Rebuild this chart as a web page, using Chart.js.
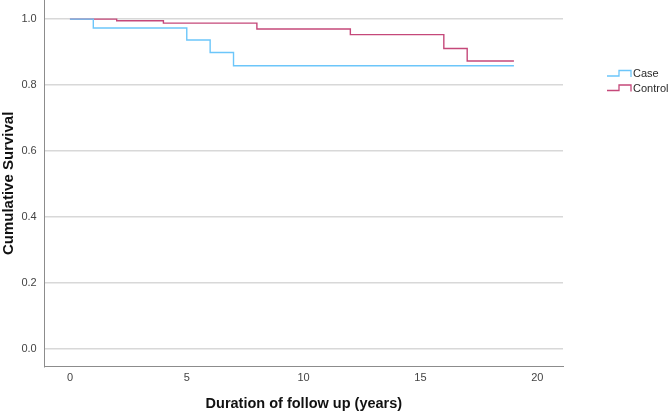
<!DOCTYPE html>
<html>
<head>
<meta charset="utf-8">
<script src="https://cdn.jsdelivr.net/npm/chart.js@4/dist/chart.umd.min.js"></script>
<style>
html,body{margin:0;padding:0;background:#fff;}
#wrap{width:669px;height:413px;position:relative;}
</style>
</head>
<body>
<div id="wrap"><canvas id="c" width="669" height="413"></canvas></div>
<script>
const seriesNames = ['Case', 'Control'];
const caseTimes = [0, 1, 5, 6, 7, 19];
const caseSurvival = [1.0, 0.973, 0.937, 0.899, 0.859, 0.859];
const controlTimes = [0, 2, 4, 8, 12, 16, 17, 19];
const controlSurvival = [1.0, 0.995, 0.988, 0.970, 0.953, 0.911, 0.873, 0.873];
const yTicks = [0, 0.2, 0.4, 0.6, 0.8, 1.0];
const xTicks = [0, 5, 10, 15, 20];
const colors = ['#6cc6fa', '#c5487a'];

function pts(t, s) { return t.map((x, i) => ({x: x, y: s[i]})); }

const legendPlugin = {
  id: 'kmLegend',
  afterDraw(chart) {
    const ctx = chart.ctx;
    const items = [{y: 74}, {y: 88.5}];
    ctx.save();
    chart.data.datasets.forEach((ds, i) => {
      const y = items[i].y;
      const x0 = 607, x1 = 631;
      ctx.strokeStyle = ds.borderColor;
      ctx.lineWidth = 1.3;
      ctx.beginPath();
      ctx.moveTo(x0, y + 2);
      ctx.lineTo(x0 + 12, y + 2);
      ctx.lineTo(x0 + 12, y - 3.5);
      ctx.lineTo(x1, y - 3.5);
      ctx.lineTo(x1, y + 3);
      ctx.stroke();
      ctx.fillStyle = '#2a2a2a';
      ctx.font = '11px "Liberation Sans", Arial, sans-serif';
      ctx.textBaseline = 'middle';
      ctx.textAlign = 'left';
      ctx.fillText(ds.label, 633, y);
    });
    ctx.restore();
  }
};

new Chart(document.getElementById('c'), {
  type: 'line',
  data: {
    datasets: [
      {label: seriesNames[0], data: pts(caseTimes, caseSurvival), borderColor: colors[0], borderWidth: 1.4, stepped: 'before', pointRadius: 0, fill: false},
      {label: seriesNames[1], data: pts(controlTimes, controlSurvival), borderColor: colors[1], borderWidth: 1.4, stepped: 'before', pointRadius: 0, fill: false}
    ]
  },
  options: {
    responsive: false,
    animation: false,
    layout: {padding: {left: 0, right: 106, top: 0, bottom: 0}},
    plugins: {legend: {display: false}, tooltip: {enabled: false}},
    scales: {
      x: {
        type: 'linear', min: -1.08, max: 21.1,
        afterBuildTicks(s) { s.ticks = xTicks.map(v => ({value: v})); },
        afterFit(s) { s.height = 46.3; s.paddingLeft = 0; s.paddingRight = 0; },
        grid: {display: false, drawTicks: false},
        border: {display: true, color: '#8c8c8c', width: 1},
        ticks: {color: '#444', font: {size: 11, family: '"Liberation Sans", Arial, sans-serif'}, padding: 5, maxRotation: 0},
        title: {display: true, text: 'Duration of follow up (years)', color: '#111', font: {size: 14.5, weight: 'bold', family: '"Liberation Sans", Arial, sans-serif'}, padding: {top: 0, bottom: 0}}
      },
      y: {
        type: 'linear', min: -0.053, max: 1.058,
        afterBuildTicks(s) { s.ticks = yTicks.map(v => ({value: v})); },
        afterFit(s) { s.width = 44.7; s.paddingTop = 0; s.paddingBottom = 0; },
        grid: {display: true, color: '#d8d8d8', lineWidth: 1.5, drawTicks: false},
        border: {display: true, color: '#8c8c8c', width: 1},
        ticks: {color: '#444', font: {size: 11, family: '"Liberation Sans", Arial, sans-serif'}, padding: 8, callback: v => v.toFixed(1)},
        title: {display: true, text: 'Cumulative Survival', color: '#111', font: {size: 15, weight: 'bold', family: '"Liberation Sans", Arial, sans-serif'}, padding: {top: 0, bottom: 0}}
      }
    }
  },
  plugins: [legendPlugin]
});
</script>
</body>
</html>
